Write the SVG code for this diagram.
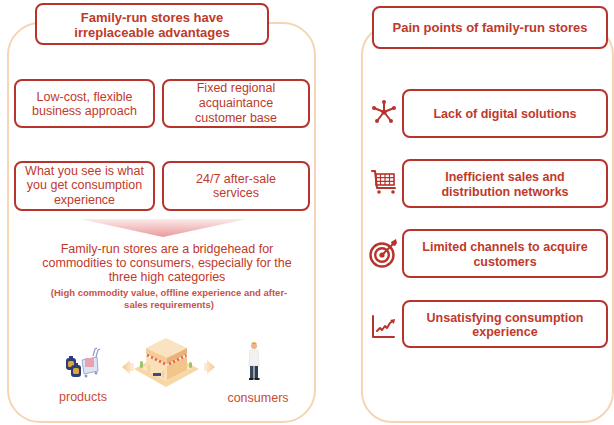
<svg xmlns="http://www.w3.org/2000/svg" width="614" height="425" viewBox="0 0 614 425">
  <defs>
    <style>
      .panel { fill: #fff; stroke: #f5d5b4; stroke-width: 2; }
      .box { fill: #fff; stroke: #b8332b; stroke-width: 2; }
      .t { font-family: "Liberation Sans", Arial, sans-serif; fill: #c0392b; text-anchor: middle; }
      .h { font-size: 13px; font-weight: bold; }
      .n { font-size: 12.5px; }
      .b { font-size: 12.5px; font-weight: bold; }
      .s { font-size: 9.5px; font-weight: bold; fill: #c8524a; }
      .lbl { font-size: 12.5px; fill: #c84b3a; }
      .ic { fill: none; stroke: #b8332b; stroke-width: 2; stroke-linecap: round; stroke-linejoin: round; }
      .icf { fill: #b8332b; }
    </style>
    <linearGradient id="funnel" x1="0" y1="0" x2="0" y2="1">
      <stop offset="0" stop-color="#fdeaea"/>
      <stop offset="1" stop-color="#e99a9a"/>
    </linearGradient>
    <linearGradient id="arrL" x1="1" y1="0" x2="0" y2="0">
      <stop offset="0" stop-color="#fdf0dc"/>
      <stop offset="1" stop-color="#f5c88e"/>
    </linearGradient>
    <linearGradient id="arrR" x1="0" y1="0" x2="1" y2="0">
      <stop offset="0" stop-color="#fdf0dc"/>
      <stop offset="1" stop-color="#f5c88e"/>
    </linearGradient>
  </defs>

  <!-- left panel: advantages -->
  <g id="advantages-panel">
    <rect class="panel" x="8" y="23" width="307" height="399" rx="32"/>
  </g>
  <g id="advantages-header">
    <rect class="box" x="36" y="4" width="232" height="40" rx="7"/>
    <text class="t h" x="152" y="21.5">Family-run stores have</text>
    <text class="t h" x="152" y="36.5">irreplaceable advantages</text>
  </g>
  <g id="low-cost">
    <rect class="box" x="15" y="80" width="139" height="47" rx="7"/>
    <text class="t n" x="84.5" y="101">Low-cost, flexible</text>
    <text class="t n" x="84.5" y="115">business approach</text>
  </g>
  <g id="customer-base">
    <rect class="box" x="163" y="80" width="146" height="47" rx="7"/>
    <text class="t n" x="236" y="92">Fixed regional</text>
    <text class="t n" x="236" y="107">acquaintance</text>
    <text class="t n" x="236" y="122">customer base</text>
  </g>
  <g id="wysiwyg">
    <rect class="box" x="15" y="162" width="139" height="48" rx="7"/>
    <text class="t n" x="84.5" y="175">What you see is what</text>
    <text class="t n" x="84.5" y="189">you get consumption</text>
    <text class="t n" x="84.5" y="204">experience</text>
  </g>
  <g id="after-sale">
    <rect class="box" x="163" y="162" width="146" height="48" rx="7"/>
    <text class="t n" x="236" y="182.5">24/7 after-sale</text>
    <text class="t n" x="236" y="197">services</text>
  </g>

  <!-- funnel pointing to the conclusion -->
  <g id="funnel-summary">
    <polygon points="80,219 247,219 163,237" fill="url(#funnel)"/>
    <text class="t n" x="167" y="253">Family-run stores are a bridgehead for</text>
    <text class="t n" x="167" y="267">commodities to consumers, especially for the</text>
    <text class="t n" x="167" y="281">three high categories</text>
    <text class="t s" x="169" y="295.5">(High commodity value, offline experience and after-</text>
    <text class="t s" x="169" y="308">sales requirements)</text>
  </g>

  <!-- products: luggage and trolley -->
  <g id="products">
    <g>
      <rect x="66" y="358" width="10" height="12" rx="3" fill="#2f3b78"/>
      <rect x="69" y="356" width="4" height="3" fill="#2f3b78"/>
      <rect x="68" y="361" width="6" height="6" rx="1.5" fill="#d9a93a"/>
      <rect x="71" y="365" width="10" height="12" rx="3" fill="#2f3b78"/>
      <rect x="74" y="363" width="4" height="3" fill="#2f3b78"/>
      <rect x="73" y="368" width="6" height="6" rx="1.5" fill="#d9a93a"/>
      <path d="M82 360 L97 357 L98 371 L84 374 Z" fill="#dde3f2" stroke="#8f9bc8" stroke-width="0.8"/>
      <rect x="85" y="358" width="9" height="9" fill="#e7a3b6"/>
      <path d="M96 357 L98 350 L100 349" fill="none" stroke="#8f9bc8" stroke-width="1.2"/>
      <path d="M93 356 L95 349 L97 348" fill="none" stroke="#8f9bc8" stroke-width="1.2"/>
      <circle cx="86" cy="376" r="1.5" fill="#8f9bc8"/>
      <circle cx="96" cy="373" r="1.5" fill="#8f9bc8"/>
    </g>
    <text class="t lbl" x="83" y="401">products</text>
  </g>

  <!-- storefront on an isometric plot -->
  <g id="store">
    <polygon points="134,369 166,352 199,369 166,387" fill="#f8d7a6"/>
    <polygon points="141,368 166,355 192,368 166,381" fill="#fbe6c6"/>
    <!-- walls -->
    <polygon points="146,356 167,366 167,380 146,370" fill="#f9e0b8"/>
    <polygon points="167,366 187,356 187,370 167,380" fill="#f2c68a"/>
    <!-- roof -->
    <polygon points="146,348 166,338 187,348 167,358" fill="#f9e3c0"/>
    <polygon points="146,348 167,358 167,364 146,354" fill="#f4cc96"/>
    <polygon points="167,358 187,348 187,354 167,364" fill="#eab277"/>
    <!-- striped awnings -->
    <path d="M147 355 L149 356 M151 357 L153 358 M155 359 L157 360 M159 361 L161 362 M163 363 L165 364" stroke="#e26a4a" stroke-width="2.6"/>
    <path d="M169 364 L171 363 M173 362 L175 361 M177 360 L179 359 M181 358 L183 357 M185 356 L186.5 355.3" stroke="#e26a4a" stroke-width="2.6"/>
    <path d="M149 365 L149 372 M163 371 L163 378" stroke="#e9c08a" stroke-width="1"/>
    <rect x="153" y="373" width="8" height="3" fill="#3c4a8a"/>
    <rect x="140" y="361" width="3" height="7" rx="1.5" fill="#9cc36a"/>
    <rect x="189" y="362" width="3" height="6" rx="1.5" fill="#9cc36a"/>
  </g>

  <!-- flow arrows either side of the store -->
  <g id="connectors">
    <polygon points="122,367 130,360 130,363 134,363 134,371 130,371 130,374" fill="url(#arrL)"/>
    <polygon points="215,367 207,360 207,363 204,363 204,371 207,371 207,374" fill="url(#arrR)"/>
  </g>

  <!-- consumer figure -->
  <g id="consumers">
    <circle cx="254" cy="346" r="3" fill="#e8b68a"/>
    <path d="M251 344 Q254 340 257 344 Z" fill="#d9a93a"/>
    <path d="M250 350 L258 350 L259 366 L249 366 Z" fill="#f2f2f2" stroke="#dcdcdc" stroke-width="0.6"/>
    <rect x="250" y="366" width="3.5" height="13" fill="#34495e"/>
    <rect x="254.5" y="366" width="3.5" height="13" fill="#2c3e50"/>
    <rect x="249" y="378" width="4.5" height="2" fill="#222"/>
    <rect x="254.5" y="378" width="5" height="2" fill="#222"/>
    <text class="t lbl" x="258" y="402">consumers</text>
  </g>

  <!-- right panel: pain points -->
  <g id="pain-panel">
    <rect class="panel" x="362" y="25" width="251" height="397" rx="30"/>
  </g>
  <g id="pain-header">
    <rect class="box" x="373" y="7" width="234" height="41" rx="7"/>
    <text class="t h" x="490" y="31.5">Pain points of family-run stores</text>
  </g>

  <g id="no-digital">
    <g>
      <circle class="icf" cx="384" cy="112" r="2.6"/>
      <path class="ic" d="M384 112 L374 108 M384 112 L384 102 M384 112 L394 108 M384 112 L377 121 M384 112 L391 121"/>
      <circle class="icf" cx="374" cy="108" r="2"/>
      <circle class="icf" cx="384" cy="102" r="2"/>
      <circle class="icf" cx="394" cy="108" r="2"/>
      <circle class="icf" cx="377" cy="121" r="2"/>
      <circle class="icf" cx="391" cy="121" r="2"/>
    </g>
    <rect class="box" x="403" y="90" width="204" height="47" rx="7"/>
    <text class="t b" x="505" y="117.5">Lack of digital solutions</text>
  </g>

  <g id="inefficient-sales">
    <g>
      <path class="ic" d="M372 171 L375 171 L377 188 L395 188" stroke-width="1.8"/>
      <rect x="376" y="174" width="18" height="11" fill="none" stroke="#b8332b" stroke-width="1.6"/>
      <path d="M376 177.7 L394 177.7 M376 181.3 L394 181.3 M380.5 174 L380.5 185 M385 174 L385 185 M389.5 174 L389.5 185" stroke="#b8332b" stroke-width="1.2"/>
      <circle class="icf" cx="379" cy="192" r="1.8"/>
      <circle class="icf" cx="393" cy="192" r="1.8"/>
    </g>
    <rect class="box" x="403" y="160" width="204" height="47" rx="7"/>
    <text class="t b" x="505" y="180.5">Inefficient sales and</text>
    <text class="t b" x="505" y="195.5">distribution networks</text>
  </g>

  <g id="limited-channels">
    <g>
      <circle cx="382" cy="255" r="11.5" fill="none" stroke="#b8332b" stroke-width="2.4"/>
      <circle cx="382" cy="255" r="6.8" fill="none" stroke="#b8332b" stroke-width="2.4"/>
      <circle class="icf" cx="382" cy="255" r="2.6"/>
      <path class="ic" d="M382 255 L394 243" stroke-width="1.8"/>
      <path class="icf" d="M391 242 L396 239 L397 243 L395 246 L392 245 Z"/>
    </g>
    <rect class="box" x="403" y="230" width="204" height="47" rx="7"/>
    <text class="t b" x="505" y="250.5">Limited channels to acquire</text>
    <text class="t b" x="505" y="265.5">customers</text>
  </g>

  <g id="unsatisfying-experience">
    <g>
      <path class="ic" d="M373 316 L373 337 L394 337" stroke-width="1.6"/>
      <path class="ic" d="M377 331 L380 328 L382 330 L385 326 L387 328 L390 323 L393 321" stroke-width="1.6"/>
      <path class="icf" d="M390 320 L395 319 L394 324 Z"/>
    </g>
    <rect class="box" x="403" y="301" width="204" height="46" rx="7"/>
    <text class="t b" x="505" y="321.5">Unsatisfying consumption</text>
    <text class="t b" x="505" y="335.5">experience</text>
  </g>
</svg>
